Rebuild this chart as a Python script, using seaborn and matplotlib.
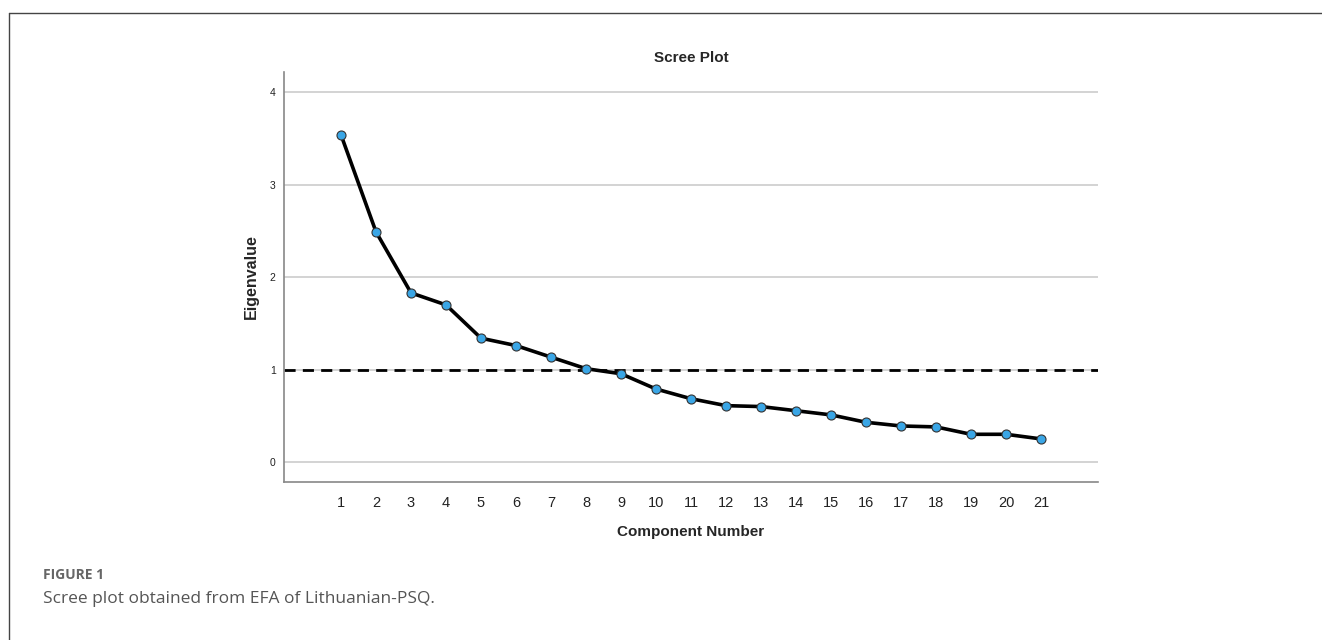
import numpy as np, pandas as pd, matplotlib, matplotlib.pyplot as plt
import seaborn as sns
from matplotlib.lines import Line2D

sns.set_style('white')
matplotlib.rcParams['font.family'] = ['Liberation Sans', 'DejaVu Sans']

# ── data ────────────────────────────────────────────────────────────────────
components  = list(range(1, 22))
eigenvalues = [3.54, 2.49, 1.83, 1.70, 1.34, 1.26, 1.135, 1.01, 0.955, 0.79,
               0.685, 0.61, 0.60, 0.555, 0.51, 0.43, 0.39, 0.38, 0.30, 0.30, 0.25]
y_ticks     = [0, 1, 2, 3, 4]
cutoff      = 1.0

df = pd.DataFrame({'Component Number': components, 'Eigenvalue': eigenvalues})

fig = plt.figure(figsize=(13.22, 6.4), dpi=100)
ax  = fig.add_axes([0.2148, 0.2469, 0.6158, 0.6406])

for t in y_ticks:
    ax.axhline(t, color='#cccccc', lw=1.2, zorder=0)
ax.axhline(cutoff, color='black', lw=2, ls=(0, (4, 2.6)), zorder=1)

sns.lineplot(data=df, x='Component Number', y='Eigenvalue', ax=ax,
             color='black', lw=2.6, marker='o', markersize=6.5,
             markerfacecolor='#3aa6e6', markeredgecolor='#333333',
             markeredgewidth=0.8, zorder=3)

ax.set_xlim(-0.63, 22.63)
ax.set_ylim(-0.216, 4.22)
ax.set_xticks(components)
ax.set_xticklabels([str(c) for c in components], fontsize=10.5, color='#222222')
ax.set_yticks(y_ticks)
ax.set_yticklabels([str(t) for t in y_ticks], fontsize=7.5, color='#222222')
ax.tick_params(axis='both', length=0)
ax.tick_params(axis='x', pad=10)
ax.tick_params(axis='y', pad=6)
for s in ['top', 'right']:
    ax.spines[s].set_visible(False)
for s in ['left', 'bottom']:
    ax.spines[s].set_color('#888888')
    ax.spines[s].set_linewidth(1.2)

ax.set_title('Scree Plot', fontsize=11, fontweight='bold', pad=7)
ax.set_xlabel('Component Number', fontsize=11, fontweight='bold', labelpad=11)
ax.set_ylabel('Eigenvalue', fontsize=11.5, fontweight='bold', labelpad=8)

# frame and caption
fig.add_artist(Line2D([0.0068, 1.0], [0.9797, 0.9797], color='#444444', lw=1))
fig.add_artist(Line2D([0.0068, 0.0068], [0.0, 0.9797], color='#444444', lw=1))
fig.text(0.0325, 0.102, 'FIGURE 1', fontsize=10, fontweight='bold',
         color='#666666', family=['Open Sans', 'DejaVu Sans'], va='center')
fig.text(0.0325, 0.064, 'Scree plot obtained from EFA of Lithuanian-PSQ.',
         fontsize=12.5, color='#555555', family=['Open Sans', 'DejaVu Sans'],
         va='center')

plt.savefig('out.png', dpi=100)
plt.close()
